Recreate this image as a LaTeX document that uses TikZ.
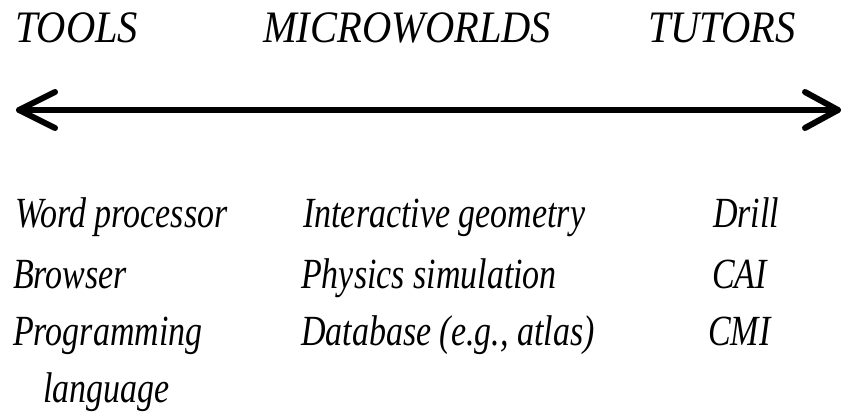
\documentclass[tikz,border=0pt]{standalone}
\usepackage{fontspec}
\newfontfamily\headfont[FakeStretch=0.9]{Liberation Serif}
\newfontfamily\rowfont[FakeStretch=0.79]{Liberation Serif}
\begin{document}
\begin{tikzpicture}[x=1pt,y=-1pt,
  head/.style={anchor=base west,inner sep=0pt,font=\headfont\itshape\fontsize{45}{54}\selectfont},
  item/.style={anchor=base west,inner sep=0pt,font=\rowfont\itshape\fontsize{43}{52}\selectfont},
  bar/.style={line width=6pt,line cap=round}]
\useasboundingbox (0,0) rectangle (843,420);
\node[head] (tools) at (15,43) {TOOLS};
\node[head] (micro) at (263,43) {MICROWORLDS};
\node[head] (tutors) at (648,43) {TUTORS};
\coordinate (L) at (19,110);
\coordinate (R) at (838,110);
\draw[bar] (L) -- (R);
\draw[bar,line join=round] (55,92) -- (L) -- (55,128);
\draw[bar,line join=round] (805,92) -- (R) -- (805,128);
\node[item] (wp) at (15,227) {Word processor};
\node[item] (br) at (13,288) {Browser};
\node[item] (pr) at (13,345) {Programming};
\node[item] (la) at (43,402) {language};
\node[item] (ig) at (303,227) {Interactive geometry};
\node[item] (ps) at (301,288) {Physics simulation};
\node[item] (db) at (301,345) {Database (e.g., atlas)};
\node[item] (dr) at (713,227) {Drill};
\node[item] (cai) at (712,288) {CAI};
\node[item] (cmi) at (708,345) {CMI};
\end{tikzpicture}
\end{document}
